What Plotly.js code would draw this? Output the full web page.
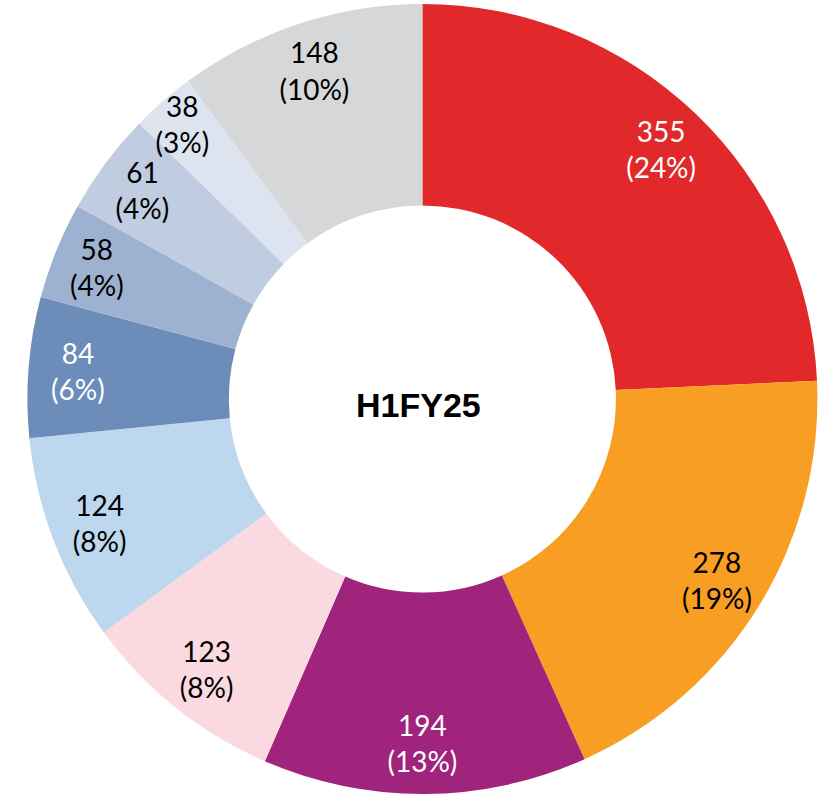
<!DOCTYPE html>
<html><head><meta charset="utf-8">
<script src="https://cdn.plot.ly/plotly-3.0.1.min.js"></script>
<style>html,body{margin:0;padding:0;background:#fff;overflow:hidden}#chart{width:825px;height:794px}</style>
</head><body><div id="chart"></div>
<script>
const categories = ["A","B","C","D","E","F","G","H","I","J"];
const values = [355, 278, 194, 123, 124, 84, 58, 61, 38, 148];
const percentLabels = ["24%","19%","13%","8%","8%","6%","4%","4%","3%","10%"];
const colors = ["#E1282A","#F89E23","#A0237C","#FAD9E0","#BDD7EE","#6C8CBA","#9DB1D0","#C0CCE0","#DDE4EF","#D6D7D9"];
const textColors = ["#ffffff","#000000","#ffffff","#000000","#000000","#ffffff","#000000","#000000","#000000","#000000"];
const centerLabel = "H1FY25";

const texts = values.map((v,i)=> v + "<br>(" + percentLabels[i] + ")");
const dom = {x: [0.025, 0.999], y: [0, 0.995]};

Plotly.newPlot("chart", [{
  type: "pie",
  labels: categories,
  values: values,
  textinfo: "none",
  hoverinfo: "none",
  sort: false,
  direction: "clockwise",
  rotation: 0,
  hole: 0.49,
  marker: {colors: colors, line: {width: 0}},
  domain: dom,
  showlegend: false
}, {
  type: "pie",
  labels: categories,
  values: values,
  text: texts,
  textinfo: "text",
  hoverinfo: "none",
  sort: false,
  direction: "clockwise",
  rotation: 0,
  hole: 0.75,
  textposition: "inside",
  insidetextorientation: "horizontal",
  marker: {colors: values.map(()=> "rgba(0,0,0,0)"), line: {width: 0}},
  insidetextfont: {family: "Lato, 'Open Sans', sans-serif", size: 28, color: textColors},
  domain: dom,
  showlegend: false
}], {
  width: 825, height: 794,
  margin: {l:0, r:0, t:0, b:0},
  paper_bgcolor: "#ffffff",
  uniformtext: {mode: "show", minsize: 28},
  annotations: [{
    text: "<b>" + centerLabel + "</b>",
    x: 0.507, y: 0.49, xref: "paper", yref: "paper",
    showarrow: false,
    font: {family: "'Liberation Sans', Arial, sans-serif", size: 34, color: "#000"}
  }]
}, {displayModeBar: false, staticPlot: true});
</script></body></html>
